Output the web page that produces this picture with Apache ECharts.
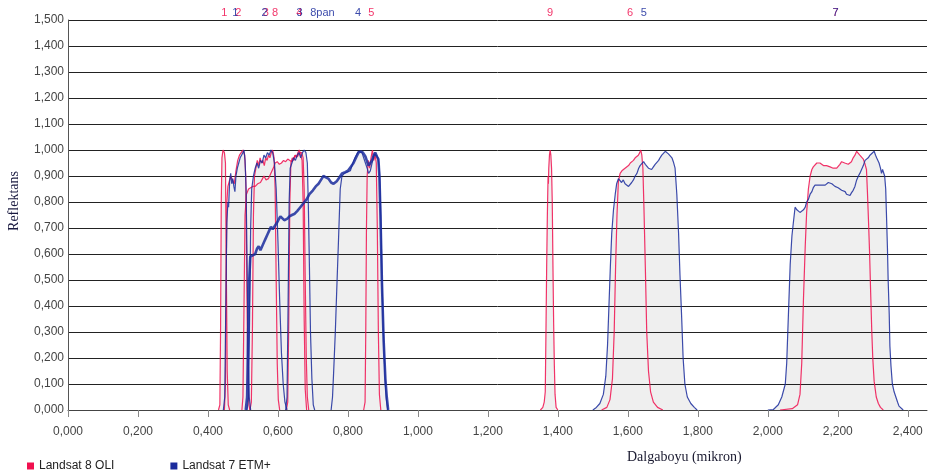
<!DOCTYPE html>
<html>
<head>
<meta charset="utf-8">
<script src="https://cdn.jsdelivr.net/npm/echarts@6/dist/echarts.min.js"></script>
<style>html,body{margin:0;background:#fff}#main{width:928px;height:475px}</style>
</head>
<body>
<div id="main"></div>
<script>
// Landsat 8 OLI band response curves [wavelength (micron), reflectance]
const oli1 = [[0.430,0],[0.434,0.02],[0.436,0.3],[0.438,0.8],[0.440,0.97],[0.443,1.0],[0.447,0.99],[0.450,0.95],[0.452,0.6],[0.455,0.15],[0.458,0.02],[0.462,0]];
const oli2 = [[0.447,0],[0.450,0.1],[0.452,0.5],[0.454,0.8],[0.457,0.86],[0.461,0.88],[0.465,0.9],[0.470,0.9],[0.475,0.87],[0.480,0.92],[0.485,0.96],[0.490,0.98],[0.495,0.99],[0.500,1.0],[0.505,0.98],[0.508,0.9],[0.511,0.5],[0.514,0.12],[0.517,0.02],[0.520,0]];
const oli3 = [[0.520,0],[0.524,0.03],[0.527,0.3],[0.530,0.75],[0.533,0.9],[0.537,0.93],[0.541,0.96],[0.545,0.94],[0.549,0.97],[0.553,0.95],[0.557,0.96],[0.561,0.94],[0.565,0.97],[0.569,0.96],[0.573,0.98],[0.577,0.97],[0.581,0.99],[0.585,1.0],[0.589,0.97],[0.592,0.85],[0.595,0.5],[0.598,0.18],[0.601,0.04],[0.605,0]];
const oli4 = [[0.624,0],[0.628,0.03],[0.631,0.35],[0.634,0.8],[0.637,0.95],[0.641,0.97],[0.645,0.96],[0.649,0.98],[0.653,0.97],[0.657,0.99],[0.661,1.0],[0.665,0.98],[0.669,0.96],[0.672,0.8],[0.675,0.35],[0.678,0.08],[0.682,0]];
const oli5 = [[0.845,0],[0.849,0.03],[0.851,0.3],[0.853,0.7],[0.855,0.9],[0.858,0.96],[0.862,0.93],[0.866,0.97],[0.870,1.0],[0.874,0.96],[0.878,0.98],[0.881,0.95],[0.884,0.7],[0.887,0.3],[0.890,0.06],[0.894,0]];
const oli6 = [[1.525,0],[1.540,0.01],[1.549,0.04],[1.556,0.12],[1.561,0.3],[1.565,0.55],[1.569,0.75],[1.573,0.88],[1.578,0.91],[1.583,0.92],[1.588,0.925],[1.592,0.93],[1.597,0.935],[1.602,0.94],[1.607,0.95],[1.611,0.95],[1.616,0.96],[1.621,0.97],[1.626,0.975],[1.630,0.98],[1.634,0.99],[1.637,1.0],[1.640,0.98],[1.643,0.93],[1.646,0.78],[1.650,0.55],[1.654,0.3],[1.659,0.15],[1.665,0.07],[1.673,0.03],[1.685,0.01],[1.700,0]];
const oli7 = [[2.035,0],[2.070,0.005],[2.085,0.02],[2.092,0.06],[2.097,0.18],[2.102,0.43],[2.107,0.63],[2.111,0.76],[2.116,0.85],[2.121,0.90],[2.126,0.925],[2.130,0.935],[2.135,0.94],[2.140,0.95],[2.145,0.945],[2.149,0.95],[2.154,0.945],[2.159,0.94],[2.164,0.945],[2.168,0.94],[2.173,0.935],[2.178,0.935],[2.183,0.93],[2.187,0.93],[2.192,0.925],[2.197,0.93],[2.201,0.935],[2.206,0.945],[2.211,0.955],[2.216,0.95],[2.220,0.95],[2.225,0.95],[2.230,0.945],[2.235,0.95],[2.239,0.955],[2.244,0.97],[2.249,0.98],[2.254,0.995],[2.258,0.99],[2.263,0.98],[2.268,0.975],[2.273,0.965],[2.278,0.945],[2.282,0.925],[2.285,0.83],[2.288,0.72],[2.291,0.6],[2.294,0.45],[2.297,0.31],[2.300,0.2],[2.304,0.11],[2.310,0.05],[2.316,0.025],[2.322,0.01],[2.330,0]];
const oli8 = [[0.497,0],[0.500,0.05],[0.503,0.4],[0.506,0.75],[0.510,0.83],[0.516,0.85],[0.522,0.855],[0.528,0.86],[0.535,0.86],[0.542,0.87],[0.550,0.875],[0.556,0.89],[0.560,0.90],[0.566,0.885],[0.573,0.89],[0.578,0.905],[0.583,0.91],[0.588,0.935],[0.592,0.95],[0.598,0.955],[0.604,0.945],[0.610,0.95],[0.616,0.96],[0.622,0.955],[0.628,0.965],[0.634,0.96],[0.640,0.955],[0.645,0.97],[0.650,0.98],[0.656,0.975],[0.662,0.99],[0.668,0.99],[0.672,0.97],[0.675,0.85],[0.678,0.5],[0.681,0.2],[0.684,0.05],[0.688,0]];
const oli9 = [[1.350,0],[1.357,0.01],[1.361,0.03],[1.364,0.07],[1.366,0.3],[1.368,0.55],[1.370,0.75],[1.372,0.9],[1.373,0.87],[1.374,0.93],[1.376,0.98],[1.378,1.0],[1.380,0.98],[1.382,0.93],[1.384,0.8],[1.386,0.55],[1.388,0.33],[1.390,0.17],[1.392,0.06],[1.395,0.01],[1.400,0]];

// Landsat 7 ETM+ band response curves
const etm1 = [[0.444,0],[0.448,0.05],[0.451,0.4],[0.454,0.72],[0.457,0.80],[0.459,0.78],[0.462,0.88],[0.465,0.91],[0.468,0.87],[0.471,0.89],[0.474,0.86],[0.477,0.84],[0.480,0.90],[0.484,0.93],[0.488,0.95],[0.492,0.97],[0.496,0.98],[0.500,0.99],[0.503,1.0],[0.506,0.96],[0.509,0.85],[0.512,0.55],[0.515,0.2],[0.518,0.05],[0.522,0]];
const etm2 = [[0.512,0],[0.516,0.05],[0.519,0.35],[0.522,0.7],[0.525,0.85],[0.530,0.9],[0.535,0.93],[0.540,0.95],[0.545,0.93],[0.550,0.96],[0.555,0.95],[0.560,0.98],[0.565,0.97],[0.570,0.99],[0.575,0.98],[0.580,1.0],[0.585,0.99],[0.590,0.95],[0.595,0.85],[0.600,0.65],[0.605,0.42],[0.610,0.22],[0.615,0.1],[0.620,0.03],[0.626,0]];
const etm3 = [[0.622,0],[0.626,0.05],[0.629,0.4],[0.632,0.8],[0.635,0.93],[0.640,0.95],[0.645,0.97],[0.650,0.96],[0.655,0.98],[0.660,0.99],[0.665,0.97],[0.670,0.99],[0.675,1.0],[0.680,0.99],[0.684,0.95],[0.687,0.78],[0.690,0.55],[0.693,0.3],[0.697,0.12],[0.701,0.02],[0.705,0]];
const etm4 = [[0.752,0],[0.756,0.05],[0.759,0.14],[0.764,0.3],[0.768,0.46],[0.773,0.65],[0.778,0.85],[0.783,0.9],[0.790,0.91],[0.798,0.915],[0.807,0.92],[0.814,0.95],[0.820,0.97],[0.826,0.985],[0.830,0.995],[0.835,0.995],[0.840,0.99],[0.845,0.97],[0.850,0.95],[0.855,0.93],[0.859,0.91],[0.864,0.92],[0.869,0.95],[0.873,0.975],[0.877,0.985],[0.881,0.99],[0.884,0.975],[0.887,0.96],[0.890,0.92],[0.892,0.85],[0.895,0.68],[0.897,0.53],[0.900,0.36],[0.904,0.2],[0.907,0.1],[0.910,0.04],[0.914,0]];
const etm5 = [[1.500,0],[1.510,0.01],[1.520,0.025],[1.530,0.06],[1.537,0.13],[1.542,0.25],[1.546,0.4],[1.550,0.55],[1.554,0.68],[1.559,0.77],[1.564,0.83],[1.568,0.87],[1.573,0.89],[1.578,0.89],[1.582,0.875],[1.587,0.885],[1.592,0.87],[1.597,0.865],[1.602,0.86],[1.606,0.865],[1.611,0.875],[1.616,0.885],[1.621,0.9],[1.626,0.91],[1.631,0.93],[1.635,0.94],[1.640,0.945],[1.645,0.955],[1.650,0.945],[1.654,0.94],[1.659,0.93],[1.664,0.93],[1.668,0.925],[1.673,0.935],[1.678,0.945],[1.683,0.95],[1.688,0.96],[1.692,0.97],[1.697,0.98],[1.702,0.985],[1.707,0.995],[1.711,0.99],[1.716,0.985],[1.721,0.98],[1.726,0.97],[1.730,0.955],[1.735,0.93],[1.740,0.83],[1.745,0.68],[1.749,0.52],[1.754,0.35],[1.758,0.2],[1.763,0.1],[1.770,0.05],[1.780,0.025],[1.790,0.01],[1.798,0]];
const etm7 = [[2.000,0],[2.016,0.002],[2.030,0.02],[2.040,0.05],[2.050,0.1],[2.054,0.18],[2.059,0.37],[2.064,0.56],[2.069,0.67],[2.073,0.72],[2.078,0.78],[2.083,0.77],[2.087,0.765],[2.092,0.76],[2.097,0.755],[2.102,0.77],[2.107,0.78],[2.111,0.80],[2.116,0.81],[2.121,0.83],[2.126,0.84],[2.130,0.855],[2.135,0.865],[2.140,0.87],[2.145,0.865],[2.149,0.87],[2.154,0.865],[2.159,0.87],[2.164,0.865],[2.168,0.87],[2.173,0.875],[2.178,0.87],[2.183,0.87],[2.187,0.87],[2.192,0.86],[2.197,0.86],[2.201,0.855],[2.206,0.85],[2.211,0.845],[2.216,0.84],[2.221,0.84],[2.225,0.83],[2.230,0.825],[2.235,0.825],[2.239,0.835],[2.244,0.845],[2.249,0.86],[2.254,0.885],[2.259,0.9],[2.263,0.91],[2.268,0.925],[2.273,0.94],[2.278,0.96],[2.283,0.965],[2.287,0.97],[2.292,0.98],[2.297,0.985],[2.304,0.995],[2.308,0.98],[2.311,0.97],[2.315,0.97],[2.318,0.95],[2.322,0.93],[2.325,0.91],[2.328,0.925],[2.331,0.92],[2.334,0.90],[2.337,0.85],[2.339,0.76],[2.342,0.62],[2.344,0.50],[2.347,0.37],[2.349,0.245],[2.352,0.17],[2.356,0.1],[2.361,0.07],[2.366,0.05],[2.371,0.03],[2.375,0.015],[2.380,0.01],[2.387,0]];
const etm8 = [[0.508,0],[0.512,0.05],[0.515,0.3],[0.518,0.5],[0.521,0.59],[0.528,0.595],[0.535,0.60],[0.540,0.62],[0.545,0.63],[0.550,0.615],[0.555,0.63],[0.560,0.645],[0.565,0.66],[0.570,0.675],[0.575,0.69],[0.580,0.705],[0.585,0.695],[0.590,0.70],[0.597,0.72],[0.603,0.735],[0.607,0.745],[0.612,0.74],[0.618,0.73],[0.626,0.735],[0.633,0.745],[0.640,0.75],[0.648,0.755],[0.655,0.765],[0.664,0.78],[0.673,0.795],[0.682,0.81],[0.690,0.83],[0.700,0.845],[0.708,0.86],[0.716,0.87],[0.723,0.885],[0.730,0.90],[0.737,0.895],[0.744,0.89],[0.752,0.875],[0.759,0.87],[0.768,0.88],[0.776,0.895],[0.783,0.91],[0.792,0.915],[0.800,0.92],[0.808,0.935],[0.816,0.95],[0.823,0.97],[0.830,0.99],[0.837,0.995],[0.843,0.99],[0.850,0.975],[0.855,0.955],[0.859,0.94],[0.864,0.95],[0.869,0.96],[0.874,0.98],[0.878,0.99],[0.883,0.975],[0.887,0.965],[0.890,0.9],[0.893,0.75],[0.897,0.5],[0.902,0.27],[0.907,0.12],[0.911,0.05],[0.915,0]];

// band name labels along the top edge
const oliLabelNames = ['1', '2', '3', '8', '4', '5', '9', '6', '7'];
const oliLabelX = [0.447, 0.487, 0.565, 0.592, 0.661, 0.867, 1.378, 1.606, 2.194];
const etmLabelNames = ['1', '2', '3', '8pan', '4', '5', '7'];
const etmLabelX = [0.478, 0.562, 0.662, 0.727, 0.829, 1.646, 2.194];

const OLI = 'Landsat 8 OLI';
const ETM = 'Landsat 7 ETM+';
const oliColor = '#f0104f';
const etmColor = '#1a2b9c';

var chartDom = document.getElementById('main');
var myChart = echarts.init(chartDom);
var option;

const fmt = function (v) {
  return v.toFixed(3).replace('.', ',');
};

// opaque grey fills kept under the grid lines, so overlaps don't darken
const fillSeries = function (data) {
  return {
    name: 'fill',
    type: 'line',
    data: data,
    symbol: 'none',
    silent: true,
    z: -1,
    lineStyle: { width: 0 },
    areaStyle: { color: '#efefef', opacity: 1 }
  };
};

const lineSeries = function (name, data, color, width) {
  return {
    name: name,
    type: 'line',
    data: data,
    symbol: 'none',
    silent: true,
    z: 3,
    itemStyle: { color: color },
    lineStyle: { color: color, width: width, opacity: 0.85 }
  };
};

const labelSeries = function (name, names, xs, color) {
  return {
    name: name,
    type: 'scatter',
    silent: true,
    clip: false,
    z: 4,
    symbolSize: 1,
    itemStyle: { color: 'rgba(0,0,0,0)' },
    data: names.map(function (n, i) {
      return { name: n, value: [xs[i], 1.5] };
    }),
    label: {
      show: true,
      position: 'top',
      distance: 1,
      formatter: '{b}',
      color: color,
      opacity: 0.85,
      fontFamily: 'Liberation Sans, Arial, sans-serif',
      fontSize: 11
    }
  };
};

const oliBands = [oli1, oli2, oli3, oli4, oli5, oli6, oli7, oli8, oli9];
const etmBands = [etm1, etm2, etm3, etm4, etm5, etm7];

let series = [];
oliBands.forEach(function (b) {
  series.push(lineSeries(OLI, b, oliColor, 1.2));
});
etmBands.forEach(function (b) {
  series.push(lineSeries(ETM, b, etmColor, 1.2));
});
series.push(lineSeries(ETM, etm8, etmColor, 2.6));
oliBands.concat(etmBands, [etm8]).forEach(function (b) {
  series.push(fillSeries(b));
});
series.push(labelSeries(OLI, oliLabelNames, oliLabelX, oliColor));
series.push(labelSeries(ETM, etmLabelNames, etmLabelX, etmColor));

option = {
  animation: false,
  backgroundColor: '#fff',
  textStyle: { fontFamily: 'Liberation Sans, Arial, sans-serif' },
  title: {
    text: 'Dalgaboyu (mikron)',
    left: 627,
    top: 450,
    padding: 0,
    textStyle: {
      fontFamily: 'Liberation Serif, Times New Roman, serif',
      fontSize: 14,
      fontWeight: 'normal',
      color: '#1a1a30'
    }
  },
  graphic: [
    {
      type: 'text',
      x: 14,
      y: 201,
      rotation: Math.PI / 2,
      style: {
        text: 'Reflektans',
        fontFamily: 'Liberation Serif, Times New Roman, serif',
        fontSize: 14,
        fill: '#1a1a40',
        textAlign: 'center',
        textVerticalAlign: 'middle'
      }
    }
  ],
  legend: {
    left: 27,
    top: 460,
    padding: 0,
    icon: 'rect',
    itemWidth: 7,
    itemHeight: 7,
    itemGap: 56,
    textStyle: { fontSize: 12, color: '#222', fontFamily: 'Liberation Sans, Arial, sans-serif' },
    data: [
      { name: OLI, itemStyle: { color: oliColor } },
      { name: ETM, itemStyle: { color: etmColor } }
    ]
  },
  grid: {
    left: 68,
    right: 1,
    top: 20,
    bottom: 65
  },
  xAxis: {
    type: 'value',
    min: 0,
    max: 2.455,
    interval: 0.2,
    axisLine: { show: true, lineStyle: { color: '#444', width: 1 } },
    axisTick: { show: true, length: 7, lineStyle: { color: '#888' } },
    splitLine: { show: false },
    axisLabel: {
      formatter: fmt,
      showMaxLabel: false,
      margin: 16,
      fontSize: 12,
      color: '#444'
    }
  },
  yAxis: {
    type: 'value',
    min: 0,
    max: 1.5,
    interval: 0.1,
    axisLine: { show: true, lineStyle: { color: '#555', width: 1 } },
    axisTick: { show: false },
    splitLine: { show: true, lineStyle: { color: '#222', width: 1 } },
    axisLabel: {
      formatter: fmt,
      margin: 4,
      fontSize: 12,
      color: '#444',
      padding: [0, 0, 5, 0]
    }
  },
  series: series
};

option && myChart.setOption(option);
</script>
</body>
</html>
